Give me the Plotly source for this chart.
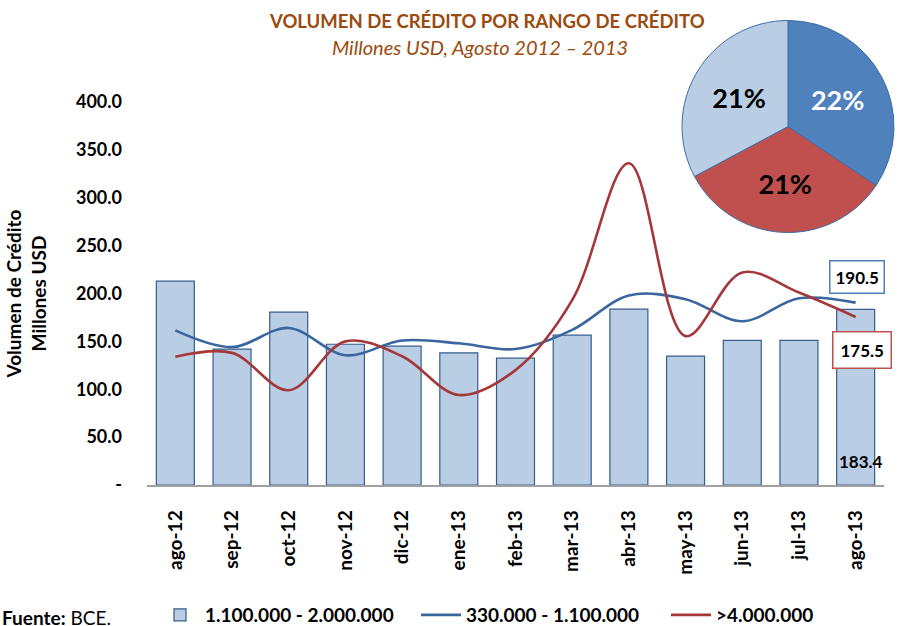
import plotly.graph_objects as go

months = ["ago-12", "sep-12", "oct-12", "nov-12", "dic-12", "ene-13", "feb-13",
          "mar-13", "abr-13", "may-13", "jun-13", "jul-13", "ago-13"]
bar_1100_2000 = [213.0, 142.0, 180.5, 147.0, 145.0, 138.0, 132.5, 156.5, 183.7, 134.5, 151.0, 151.0, 183.4]
line_330_1100 = [161.5, 144.0, 164.0, 135.5, 151.0, 148.0, 142.0, 162.0, 198.0, 194.0, 171.0, 195.0, 190.5]
line_4000 = [134.0, 138.0, 99.0, 150.0, 134.5, 94.0, 120.0, 193.0, 336.0, 155.5, 222.0, 201.0, 175.5]

pie_labels = ["330.000 - 1.100.000", ">4.000.000", "1.100.000 - 2.000.000"]
pie_values = [22, 21, 21]
pie_text = ["22%", "21%", "21%"]

ytick_vals = [0, 50, 100, 150, 200, 250, 300, 350, 400]
ytick_text = ["-", "50.0", "100.0", "150.0", "200.0", "250.0", "300.0", "350.0", "400.0"]

FONT = "Lato"
W, H = 898, 626
ML, MR, MT, MB = 147, 2, 10, 141
plot_w = W - ML - MR
plot_h = H - MT - MB
ydom_top = (485 - 102) / plot_h
xdom_right = (884 - ML) / plot_w

def py(pix):
    return (485 - pix) / plot_h

def px(pix):
    return (pix - ML) / plot_w

fig = go.Figure()
fig.add_trace(go.Bar(
    x=months, y=bar_1100_2000, name="1.100.000 - 2.000.000", legendwidth=206,
    marker=dict(color="#B9CDE5", line=dict(color="#385D8A", width=1.2)),
))
fig.add_trace(go.Scatter(
    x=months, y=line_330_1100, name="330.000 - 1.100.000", mode="lines", legendwidth=195,
    line=dict(color="#3A66A0", width=2.6, shape="spline", smoothing=1.0),
))
fig.add_trace(go.Scatter(
    x=months, y=line_4000, name=">4.000.000", mode="lines",
    line=dict(color="#A4373A", width=2.6, shape="spline", smoothing=1.0),
))
fig.add_trace(go.Pie(
    labels=pie_labels, values=pie_values, text=pie_text, textinfo="text",
    sort=False, direction="clockwise", rotation=0, showlegend=False,
    marker=dict(colors=["#4F81BD", "#C0504D", "#B9CDE5"], line=dict(color="#3F6CA6", width=1)),
    textfont=dict(family=FONT, size=27, color=["white", "black", "black"], weight="bold"),
    insidetextfont=dict(family=FONT, size=27, color=["white", "black", "black"], weight="bold"),
    textposition="inside", insidetextorientation="horizontal",
    domain=dict(x=[px(682), min(1.0, px(894))], y=[py(236), py(17)]),
    hoverinfo="skip",
))

fig.update_layout(
    width=W, height=H,
    margin=dict(l=ML, r=MR, t=MT, b=MB, autoexpand=False),
    paper_bgcolor="white", plot_bgcolor="white",
    font=dict(family=FONT, size=18, color="black"),
    bargap=0.33,
    xaxis=dict(
        domain=[0, xdom_right], automargin=False,
        showline=True, linecolor="#A0A0A0", linewidth=1.5, showgrid=False,
        tickangle=-90, tickfont=dict(family=FONT, size=19, color="black", weight="bold"),
        ticks="", ticklabelstandoff=16,
    ),
    yaxis=dict(
        domain=[0, ydom_top], range=[0, 400], showgrid=False, showline=False, zeroline=False,
        automargin=False,
        tickvals=ytick_vals, ticktext=ytick_text, ticks="",
        tickfont=dict(family=FONT, size=18, color="black", weight="bold"),
        ticklabelstandoff=24,
        title=dict(text="Volumen de Crédito<br>Millones USD", standoff=24,
                   font=dict(family=FONT, size=19, color="black", weight="bold")),
    ),
    legend=dict(
        orientation="h", x=px(155), xanchor="left", y=py(615), yanchor="middle",
        font=dict(family=FONT, size=19, color="black", weight="bold"),
        itemwidth=40, traceorder="normal",
    ),
    showlegend=True,
)

annos = [
    dict(x=px(487), y=py(21), text="<b>VOLUMEN DE CRÉDITO POR RANGO DE CRÉDITO</b>",
         font=dict(family=FONT, size=18.5, color="#9C4A0E")),
    dict(x=px(480), y=py(47), text="<i>Millones USD, Agosto 2012 – 2013</i>",
         font=dict(family=FONT, size=20, color="#9C4A0E")),
    dict(x=px(0), y=py(617), xanchor="left", text="<b>Fuente:</b> BCE.",
         font=dict(family=FONT, size=19, color="black")),
    dict(x=px(857), y=py(277), text="<b>190.5</b>", bordercolor="#4F81BD", borderwidth=1.5,
         borderpad=5, bgcolor="white", font=dict(family=FONT, size=17, color="black")),
    dict(x=px(862), y=py(350), text="<b>175.5</b>", bordercolor="#C0504D", borderwidth=1.5,
         borderpad=7, bgcolor="white", font=dict(family=FONT, size=17, color="black")),
    dict(x=px(861), y=py(461), text="<b>183.4</b>", font=dict(family=FONT, size=17, color="black")),
]
for a in annos:
    a.update(xref="paper", yref="paper", showarrow=False)
    a.setdefault("xanchor", "center")
    a.setdefault("yanchor", "middle")
    fig.add_annotation(**a)

fig.write_html("out.html", config={"displayModeBar": False},
               post_script="document.body.style.margin='0';document.body.style.overflow='hidden';")
